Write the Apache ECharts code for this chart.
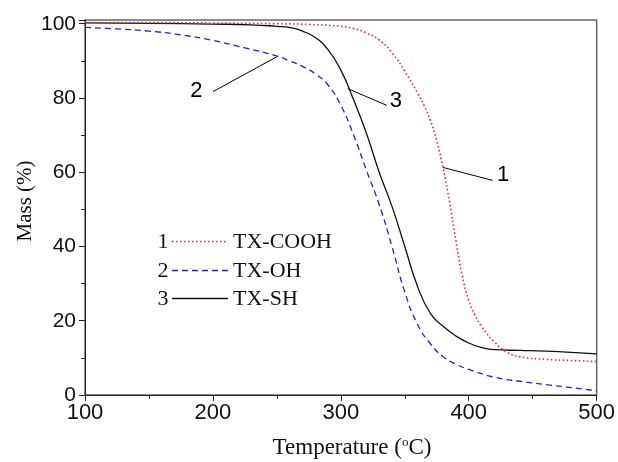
<!DOCTYPE html>
<html><head><meta charset="utf-8">
<script src="https://cdn.jsdelivr.net/npm/echarts@6/dist/echarts.min.js"></script>
<style>html,body{margin:0;padding:0;background:#fff}#c{width:618px;height:462px}</style>
</head><body><div id="c"></div>
<script>
// ---- data ----
const tempCOOH = [100,150,200,250,275,300,310,320,330,340,350,360,365,370,375,380,385,390,395,400,405,410,420,430,440,460,480,500];
const massCOOH = [100.3,100.3,100.2,100,99.8,99.3,98.7,97.5,95.6,92.2,87.2,81.3,78,74,68.5,61,52,41.5,32,25.5,21.5,18.5,14.3,11.5,10.3,9.6,9.3,9.0];
const tempOH = [100,125,150,175,200,225,250,260,270,280,290,300,310,320,330,340,350,360,370,380,390,400,420,440,460,480,500];
const massOH = [99,98.6,98,97,95.5,93.5,91.3,90,88.5,86.5,83.5,78,70,60.5,51.3,40,27.7,19,13.8,10.3,8.3,6.9,4.8,3.7,2.8,2,1.1];
const tempSH = [100,150,200,230,250,260,270,280,290,300,310,320,330,340,350,360,370,380,390,400,410,420,440,460,480,500];
const massSH = [100.2,100.1,99.9,99.7,99.3,99,98,96.3,93,87.5,79.5,70.5,60,50.8,40,29.2,22,18.5,15.9,14,12.8,12.2,12,11.8,11.5,11.1];
const seriesNames = ['TX-COOH','TX-OH','TX-SH'];
const seriesNums = ['1','2','3'];
const xTicks = [100,200,300,400,500];
const yTicks = [0,20,40,60,80,100];
// annotation leader lines and their numbers (data coordinates)
const annLabels = ['1','2','3'];
const annFrom = [[379.7,61.3],[250,91.1],[305.5,82.5]];
const annTo = [[418.7,57.8],[200,81.7],[336,78]];
const annText = [[426.8,59.2],[187,81.8],[343,79.3]];

const zip = (a,b) => a.map((v,i)=>[v,b[i]]);
const colors = ['#e0323a','#2323d2','#111111'];
const lineTypes = [[1.6,2.4],[6,4],'solid'];
const chart = echarts.init(document.getElementById('c'), null, {renderer:'canvas'});
const sans = 'Liberation Sans, Arial, sans-serif';
const serif = 'Liberation Serif, Times New Roman, serif';

const dataSets = [zip(tempCOOH,massCOOH), zip(tempOH,massOH), zip(tempSH,massSH)];
const series = dataSets.map((d,i)=>({
  name: seriesNames[i], type:'line', data:d, smooth:0.5,
  showSymbol:false, symbol:'none', clip:true,
  lineStyle:{color:colors[i], width: i===0?1.6:1.3, type: lineTypes[i]},
  z: 3-i
}));
series.push({
  type:'line', data:[], silent:true,
  markLine:{silent:true, symbol:['none','none'], label:{show:false},
    lineStyle:{color:'#000', width:1, type:'solid'},
    data: annFrom.map((f,i)=>[{coord:f},{coord:annTo[i]}])},
  markPoint:{silent:true, symbol:'circle', symbolSize:0,
    label:{show:true, position:'inside', color:'#000', fontFamily:sans, fontSize:22,
      formatter:p=>p.name},
    data: annText.map((c,i)=>({name:annLabels[i], coord:c}))}
});

const legendY = [242, 271, 299];
const graphics = [];
seriesNames.forEach((n,i)=>{
  graphics.push({type:'text', x:163, y:legendY[i], style:{text:seriesNums[i], font:'22px '+serif, fill:'#111', align:'center', verticalAlign:'middle'}});
  graphics.push({type:'line', shape:{x1:172,y1:legendY[i]-0.5,x2:228,y2:legendY[i]-0.5}, style:{stroke:colors[i], lineWidth:i===0?1.6:1.3, lineDash: i===2?null:lineTypes[i]}});
  graphics.push({type:'text', x:233, y:legendY[i], style:{text:n, font:'22px '+serif, fill:'#111', align:'left', verticalAlign:'middle'}});
});
graphics.push({type:'text', x:25, y:201, rotation:Math.PI/2,
  style:{text:'Mass (%)', font:'21px '+serif, fill:'#111', align:'center', verticalAlign:'middle'}});
graphics.push({type:'text', x:352, y:448,
  style:{text:'Temperature ({s|o}C)', font:'23px '+serif, fill:'#111', align:'center', verticalAlign:'middle',
    rich:{s:{fontSize:13, fontFamily:serif, verticalAlign:'top', padding:[0,0,10,0]}}}});

chart.setOption({
  animation:false,
  backgroundColor:'#fff',
  grid:{left:85, right:21, top:20, bottom:67, show:true, borderColor:'#666', borderWidth:1.5},
  xAxis:{type:'value', min:100, max:500, interval:100,
    axisLine:{show:true, onZero:false, lineStyle:{color:'#222', width:1}},
    axisTick:{show:true, inside:false, length:6, lineStyle:{color:'#222'}},
    minorTick:{show:true, splitNumber:2, length:4, lineStyle:{color:'#222'}},
    splitLine:{show:false},
    axisLabel:{fontFamily:sans, fontSize:22, color:'#111', margin:7,
      formatter:v=> xTicks.includes(v)? String(v):''}},
  yAxis:{type:'value', min:0, max:101, interval:20,
    axisLine:{show:true, onZero:false, lineStyle:{color:'#222', width:1}},
    axisTick:{show:true, inside:false, length:6, lineStyle:{color:'#222'}},
    minorTick:{show:true, splitNumber:2, length:4, lineStyle:{color:'#222'}},
    splitLine:{show:false},
    axisLabel:{fontFamily:sans, fontSize:21, color:'#111', margin:9, showMaxLabel:false,
      formatter:v=> yTicks.includes(v)? String(v):''}},
  series: series,
  graphic: graphics
});
</script></body></html>
